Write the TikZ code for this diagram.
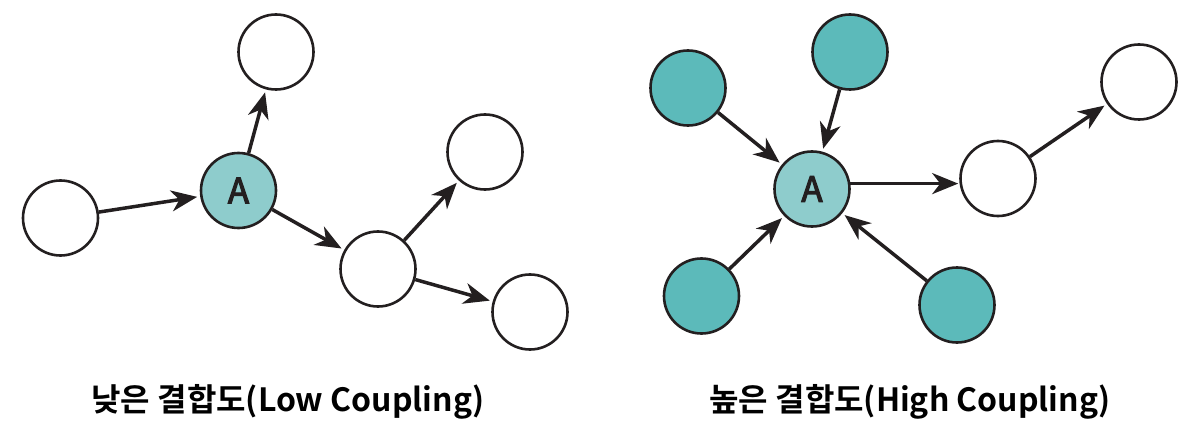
\documentclass[tikz,border=0pt]{standalone}
\usepackage{fontspec}
\newfontfamily\krfont{Noto Sans CJK KR}[BoldFont={* Bold}]
\newfontfamily\afont{Noto Sans CJK KR}[FakeBold=3]
\usetikzlibrary{arrows.meta}
\definecolor{ink}{HTML}{231F20}
\definecolor{lightteal}{HTML}{8ECCCC}
\definecolor{darkteal}{HTML}{5CBABA}
\tikzset{
  nd/.style={circle, draw=ink, line width=2.6pt, minimum size=75pt, inner sep=0pt, fill=white},
  ndA/.style={nd, fill=lightteal, text=ink, font=\afont\fontsize{35}{35}\selectfont},
  ndT/.style={nd, fill=darkteal},
  arr/.style={draw=ink, line width=3.5pt, -{Stealth[length=26pt,width=21pt,inset=8pt]}, shorten >=3pt},
  lbl/.style={font=\krfont\bfseries\fontsize{32}{34}\selectfont, text=black, inner sep=0pt}
}
\begin{document}
\begin{tikzpicture}[x=1pt,y=-1pt]
\useasboundingbox (0,0) rectangle (1192,433);
% left diagram
\node[nd] (L1) at (60.5,218) {};
\node[ndA] (LA) at (238.5,190.5) {A};
\node[nd] (L2) at (276,52) {};
\node[nd] (L3) at (378,269) {};
\node[nd] (L4) at (485,152) {};
\node[nd] (L5) at (530,312) {};
\draw[arr] (L1) -- (LA);
\draw[arr] (LA) -- (L2);
\draw[arr] (LA) -- (L3);
\draw[arr] (L3) -- (L4);
\draw[arr] (L3) -- (L5);
% right diagram
\node[ndT] (R1) at (688,88) {};
\node[ndT] (R2) at (850,52) {};
\node[ndA] (RA) at (812,189) {A};
\node[ndT] (R3) at (701.5,296) {};
\node[ndT] (R4) at (957,305) {};
\node[nd] (R5) at (998,178.5) {};
\node[nd] (R6) at (1139,82) {};
\draw[arr] (R1) -- (RA);
\draw[arr] (R2) -- (RA);
\draw[arr] (R3) -- (RA);
\draw[arr] (R4) -- (RA);
\draw[arr, shorten >=1pt] (RA.8) -- (RA.8 -| R5.west);
\draw[arr] (R5) -- (R6);
% labels
\node[lbl] (T1) at (288,402) {낮은 결합도(Low Coupling)};
\node[lbl] (T2) at (910,402) {높은 결합도(High Coupling)};
\end{tikzpicture}
\end{document}
